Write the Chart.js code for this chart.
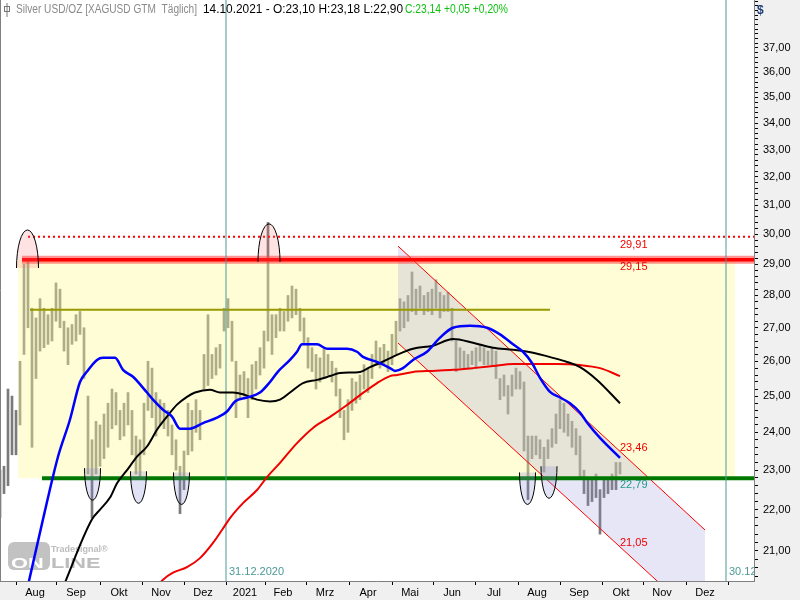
<!DOCTYPE html>
<html>
<head>
<meta charset="utf-8">
<script src="https://cdn.jsdelivr.net/npm/chart.js@4.4.0/dist/chart.umd.min.js"></script>
<style>
  html, body { margin: 0; padding: 0; background: #fff; }
</style>
</head>
<body>
<canvas id="chart" width="800" height="600"></canvas>
<script>
// x unit = trading day index (0 = left edge of the window)
const barStep = 2;
const barLow = [21.8,22.4,22.6,23.4,23.4,24.2,26.2,27.0,23.6,25.5,26.3,26.4,26.5,26.6,27.2,27.0,26.3,25.9,26.5,26.6,
  26.8,25.5,22.9,21.8,22.9,23.1,23.3,23.6,24.1,24.2,23.8,23.9,24.2,23.4,22.9,22.8,23.4,24.6,24.4,23.9,
  24.2,24.1,23.9,23.4,23.0,21.9,22.5,23.4,23.5,24.0,23.8,25.2,25.3,25.5,25.6,25.8,26.9,27.0,26.0,24.4,
  24.9,25.0,24.4,24.9,25.2,25.6,25.8,26.6,26.2,26.7,26.9,26.9,27.2,27.3,27.4,26.9,26.5,25.8,25.7,25.2,
  25.4,25.5,25.6,25.4,25.0,24.4,23.8,24.0,24.6,24.8,24.9,25.2,25.1,25.5,25.9,25.8,25.9,25.7,25.9,26.2,
  26.9,27.0,27.2,27.5,27.4,27.6,27.4,27.5,27.4,27.6,27.3,27.5,27.5,26.6,25.7,25.8,25.8,25.8,25.9,25.8,
  26.0,25.9,25.9,25.9,25.5,24.9,25.0,24.5,25.0,25.2,25.2,23.5,22.25,23.3,23.4,23.3,22.95,23.3,23.6,23.7,
  24.1,24.0,23.9,23.6,23.4,22.8,22.4,22.1,22.2,22.3,21.4,22.3,22.4,22.5,22.5,22.9];
const barHigh = [23.0,23.1,25.2,25.0,24.6,26.0,29.0,29.2,27.6,27.3,27.9,27.6,27.4,27.6,28.4,28.2,27.2,27.0,27.1,27.4,
  27.5,27.0,25.0,23.8,24.3,24.2,24.5,24.8,25.2,25.1,24.6,24.8,25.1,24.6,23.9,23.8,24.8,26.0,25.8,25.1,
  24.9,24.8,24.6,24.2,23.8,23.1,23.5,24.8,24.6,24.9,24.6,26.2,27.4,26.2,26.4,26.5,27.6,27.9,27.2,26.0,
  25.6,25.7,25.5,25.9,26.0,26.4,26.9,30.4,27.4,27.4,27.6,27.5,28.0,28.3,28.2,27.6,27.3,26.7,26.4,26.2,
  26.1,26.4,26.2,26.0,25.8,25.2,24.6,24.9,25.5,25.4,25.6,25.9,25.8,26.2,26.6,26.4,26.5,26.3,26.8,27.2,
  27.9,27.8,28.0,28.75,28.2,28.3,28.0,28.1,28.2,28.5,28.1,28.0,28.1,27.6,26.6,26.4,26.3,26.2,26.3,26.4,
  26.5,26.4,26.3,26.4,26.3,25.5,25.6,25.3,25.6,25.8,25.7,25.4,23.9,23.9,23.9,23.8,23.6,23.8,24.1,24.5,
  24.9,24.8,24.5,24.3,24.1,23.9,23.0,22.8,22.8,22.9,22.5,22.8,22.8,22.9,23.2,23.2];

// moving averages
const blueT = [13,21.5,29,35,40,43.5,48.5,51.5,57.5,61.5,66.5,73.5,76.5,81.5,86,90,95,101.5,108.5,113.5,
  117.5,123.5,130,135,139,145,148.5,151,158.5,163.5,173.5,178.5,181.5,188.5,195,197.5,201.5,206.5,213.5,220,
  226.5,235,243.5,250,256.5,261.5,266,270,275,280,285,290,293.5,300,310];
const blueV = [20.0,21.76,23.35,24.35,25.4,25.7,26.04,26.1,26.1,25.75,25.55,25.1,24.9,24.62,24.43,24.1,24.1,24.25,24.4,24.57,
  24.85,24.96,25.1,25.4,25.7,26.04,26.28,26.5,26.5,26.37,26.37,26.28,26.13,25.98,25.8,25.72,25.8,26.04,26.28,26.7,
  27.0,27.06,27.0,26.8,26.5,26.28,25.95,25.52,25.12,24.96,24.8,24.54,24.27,23.85,23.32];
const blackT = [31,46,50,55,58.5,63.5,68.5,73.5,78.5,83.5,88.5,93.5,97.5,105,110,116.5,121.5,128.5,135,140,
  145,151.5,158.5,165,170,180,185,190,198.5,206.5,216.5,226.5,236.5,246.5,256.5,266.5,276.5,283.5,290,298.5,310];
const blackV = [20.1,21.76,22.0,22.3,22.66,23.0,23.35,23.62,24.07,24.43,24.76,24.98,25.1,25.18,25.1,25.1,25.05,24.9,24.85,24.9,
  25.1,25.37,25.46,25.57,25.66,25.69,25.83,25.95,26.19,26.37,26.46,26.66,26.55,26.4,26.34,26.25,26.1,25.98,25.83,25.46,24.8];
const redT = [79,81.5,86.5,93.5,100,106.5,111,115,121.5,128.5,133.5,140,148.5,156.5,165,173.5,181.5,188.5,195,198.5,
  206.5,216.5,226.5,236.5,246.5,256.5,266.5,278.5,290,300,310];
const redV = [20.2,20.33,20.49,20.62,20.83,21.19,21.5,21.79,22.16,22.49,22.82,23.19,23.71,24.12,24.42,24.75,25.09,25.37,25.57,25.6,
  25.69,25.72,25.75,25.8,25.86,25.92,25.92,25.92,25.89,25.8,25.57];

// horizontal levels and zones
const levelTop = 29.91, levelResist = 29.15, levelMid = 27.55, levelSupport = 22.79;
const zoneT = [9, 367.5];
const channelT = [199, 352.5];
const channelUpper = [29.6, 21.5];
const channelLower = [26.54, 19.32];
const channelNow = [23.46, 21.05];
const lastT = 310;

// markers
const topMarkT = [13.75, 134.5];
const topMarkV = [28.88, 29.08];
const lowMarkT = [46.25, 69.25, 90.75, 263.75, 274.5];
const lowMarkV = [23.05, 22.97, 22.94, 22.94, 23.1];

// date lines
const dateLineT = [113, 363];
const dateLineText = ["31.12.2020", "30.12.2021"];

// axes
const monthStarts = [8, 28.5, 50, 71, 92, 113, 132.5, 153, 174.5, 196, 216.5, 237.5, 259, 280, 301, 321.5, 343, 364];
const monthLabelT = [17.5, 38, 59.5, 80.5, 101.5, 122.5, 141.5, 162.5, 184, 205, 226, 247, 268.5, 289.5, 310.5, 331, 352.5];
const monthLabels = ["Aug","Sep","Okt","Nov","Dez","2021","Feb","Mrz","Apr","Mai","Jun","Jul","Aug","Sep","Okt","Nov","Dez"];
const priceTicks = [21,22,23,24,25,26,27,28,29,30,31,32,33,34,35,36,37];

const fmt = v => v.toFixed(2).replace('.', ',');
const hline = (v, t0, t1) => [{x: t0, y: v}, {x: t1, y: v}];

Chart.defaults.font.family = "'Liberation Sans', Arial, sans-serif";
Chart.defaults.font.size = 11;
Chart.defaults.color = '#000';

const decor = {
  id: 'decor',
  beforeDraw(chart) {
    const {ctx, chartArea: a} = chart;
    ctx.save();
    ctx.fillStyle = '#f0f0f0';
    ctx.fillRect(0, 0, chart.width, chart.height);
    ctx.fillStyle = '#fff';
    ctx.fillRect(a.left, a.top, a.right - a.left, a.bottom - a.top);
    ctx.restore();
  },
  beforeDatasetsDraw(chart) {
    // Tradesignal online watermark
    const {ctx} = chart;
    ctx.save();
    ctx.fillStyle = '#c2c2c2';
    ctx.beginPath();
    ctx.roundRect(8, 542, 42, 28, 6);
    ctx.fill();
    ctx.font = "bold 15px 'Liberation Sans'";
    ctx.textBaseline = 'alphabetic';
    ctx.save();
    ctx.translate(11, 568);
    ctx.scale(1.45, 1);
    ctx.fillStyle = '#fff';
    ctx.fillText('ON', 0, 0);
    ctx.restore();
    ctx.save();
    ctx.translate(51, 568);
    ctx.scale(1.45, 1);
    ctx.fillStyle = '#bdbdbd';
    ctx.fillText('LINE', 0, 0);
    ctx.restore();
    ctx.fillStyle = '#bdbdbd';
    ctx.font = "bold 9px 'Liberation Sans'";
    ctx.fillText('Tradesignal®', 51, 552);
    ctx.restore();
  },
  afterDatasetsDraw(chart) {
    const {ctx, chartArea: a} = chart;
    const xs = chart.scales.x, ys = chart.scales.y;
    ctx.save();
    ctx.beginPath();
    ctx.rect(a.left, a.top, a.right - a.left, a.bottom - a.top);
    ctx.clip();

    // high marks
    topMarkT.forEach((t, i) => {
      const cx = xs.getPixelForValue(t), cy = ys.getPixelForValue(topMarkV[i]);
      ctx.beginPath();
      ctx.ellipse(cx, cy, 11, 38, 0, Math.PI, 2 * Math.PI);
      ctx.fillStyle = 'rgba(255,110,110,0.2)';
      ctx.fill();
      ctx.strokeStyle = '#000';
      ctx.lineWidth = 1;
      ctx.stroke();
    });
    // low marks
    lowMarkT.forEach((t, i) => {
      const cx = xs.getPixelForValue(t), cy = ys.getPixelForValue(lowMarkV[i]);
      ctx.beginPath();
      ctx.ellipse(cx, cy, 8, 32, 0, 0, Math.PI);
      ctx.fillStyle = 'rgba(140,140,220,0.25)';
      ctx.fill();
      ctx.strokeStyle = '#000';
      ctx.lineWidth = 1;
      ctx.stroke();
    });

    // value labels at the last bar
    ctx.font = "11px 'Liberation Sans'";
    ctx.textBaseline = 'middle';
    ctx.textAlign = 'left';
    const lx = xs.getPixelForValue(lastT);
    ctx.fillStyle = '#f00000';
    ctx.fillText(fmt(levelTop), lx, ys.getPixelForValue(levelTop) + 8);
    ctx.fillText(fmt(levelResist), lx, ys.getPixelForValue(levelResist) + 7);
    ctx.fillText(fmt(channelNow[0]), lx, ys.getPixelForValue(channelNow[0]) - 5);
    ctx.fillText(fmt(channelNow[1]), lx, ys.getPixelForValue(channelNow[1]) - 6);
    ctx.fillStyle = '#1f9a86';
    ctx.fillText(fmt(levelSupport), lx, ys.getPixelForValue(levelSupport) + 7);

    // date line labels
    ctx.fillStyle = '#4a9a98';
    dateLineT.forEach((t, i) => {
      ctx.fillText(dateLineText[i], xs.getPixelForValue(t) + 3, a.bottom - 9);
    });
    ctx.restore();

    // frame
    ctx.save();
    ctx.strokeStyle = '#808080';
    ctx.lineWidth = 1;
    ctx.beginPath();
    ctx.moveTo(0.5, 0);
    ctx.lineTo(0.5, a.bottom);
    ctx.stroke();

    // header
    ctx.textBaseline = 'middle';
    ctx.font = "12px 'Liberation Sans'";
    ctx.fillStyle = '#8a8a8a';
    ctx.fillText('Silver USD/OZ [XAGUSD GTM  Täglich]', 16, 10, 181);
    ctx.fillStyle = '#000';
    ctx.fillText('14.10.2021 - O:23,10 H:23,18 L:22,90', 203, 10, 200);
    ctx.fillStyle = '#10c010';
    ctx.fillText('C:23,14 +0,05 +0,20%', 405, 10, 103);
    // header icon
    ctx.strokeStyle = '#777';
    ctx.strokeRect(4.5, 6.5, 5, 5);
    ctx.beginPath();
    ctx.moveTo(7, 3);
    ctx.lineTo(7, 17);
    ctx.stroke();
    // currency
    ctx.fillStyle = '#1c3c78';
    ctx.font = "bold 12px 'Liberation Sans'";
    ctx.fillText('$', 757, 11);
    ctx.restore();
  }
};

const bars = barLow.map((lo, k) => ({x: k * barStep, y: [lo, barHigh[k]]}));
const toXY = (ts, vs) => ts.map((t, i) => ({x: t, y: vs[i]}));

const lineBase = {type: 'line', pointRadius: 0, clip: 0, fill: false};

new Chart(document.getElementById('chart'), {
  type: 'line',
  data: {
    datasets: [
      {type: 'bar', data: bars, backgroundColor: '#7a7a7a', borderWidth: 0, barThickness: 2, order: 20, clip: 0},
      {...lineBase, data: hline(levelResist, zoneT[0], zoneT[1]), borderWidth: 0,
        fill: {value: levelSupport}, backgroundColor: 'rgba(255,250,150,0.4)', order: 19},
      {...lineBase, data: toXY(channelT, channelUpper), borderColor: '#ff0000', borderWidth: 1, order: 17},
      {...lineBase, data: toXY(channelT, channelLower), borderColor: '#ff0000', borderWidth: 1,
        fill: '-1', backgroundColor: 'rgba(140,140,220,0.22)', order: 18},
      {...lineBase, data: hline(levelMid, 15, 275), borderColor: '#999900', borderWidth: 2, order: 10},
      {...lineBase, data: hline(levelResist, 11, 377), borderColor: 'rgba(255,60,60,0.55)', borderWidth: 8, order: 9},
      {...lineBase, data: hline(levelResist, 11, 377), borderColor: '#ff0000', borderWidth: 3.5, order: 8},
      {...lineBase, data: hline(levelTop, 14, 377), borderColor: '#ff0000', borderWidth: 2, borderDash: [2, 3], order: 8},
      {...lineBase, data: hline(levelSupport, 21, 377), borderColor: '#007800', borderWidth: 4, order: 8},
      ...dateLineT.map(t => ({...lineBase, data: [{x: t, y: 18}, {x: t, y: 42}], borderColor: '#4a9a98', borderWidth: 1, order: 7})),
      {...lineBase, data: toXY(redT, redV), borderColor: '#f00000', borderWidth: 2, cubicInterpolationMode: 'monotone', order: 3},
      {...lineBase, data: toXY(blackT, blackV), borderColor: '#000', borderWidth: 2, cubicInterpolationMode: 'monotone', order: 2},
      {...lineBase, data: toXY(blueT, blueV), borderColor: '#0000ff', borderWidth: 2.5, cubicInterpolationMode: 'monotone', order: 1}
    ]
  },
  options: {
    responsive: false,
    devicePixelRatio: 1,
    animation: false,
    layout: {padding: 0},
    plugins: {legend: {display: false}, tooltip: {enabled: false}},
    scales: {
      x: {
        type: 'linear',
        min: 0,
        max: 377,
        offset: false,
        border: {display: true, color: '#808080'},
        grid: {
          offset: false,
          drawOnChartArea: false,
          tickLength: 4,
          tickColor: c => (c.tick && c.tick.b) ? '#000' : 'rgba(0,0,0,0)'
        },
        ticks: {
          autoSkip: false,
          maxRotation: 0,
          padding: 1,
          callback: (v, i, ticks) => ticks[i].lab || ''
        },
        afterBuildTicks: s => {
          const t = monthStarts.map(v => ({value: v, b: true}))
            .concat(monthLabelT.map((v, i) => ({value: v, lab: monthLabels[i]})));
          t.sort((p, q) => p.value - q.value);
          s.ticks = t;
        },
        afterFit: s => { s.height = 19; s.paddingLeft = 0; s.paddingRight = 0; }
      },
      y: {
        type: 'logarithmic',
        position: 'right',
        min: 20.30,
        max: 39.055,
        border: {display: true, color: '#808080'},
        grid: {drawOnChartArea: false, tickLength: 4, tickColor: '#000'},
        ticks: {
          autoSkip: false,
          padding: 5,
          callback: (v, i, ticks) => ticks[i].lab || ''
        },
        afterBuildTicks: s => {
          const t = [];
          for (let n = 20; n <= 39; n++) {
            for (let j = 0; j < 5; j++) {
              const v = n + j * 0.2;
              if (v < s.min || v > s.max) continue;
              const tick = {value: v};
              if (j === 0 && priceTicks.includes(n)) tick.lab = fmt(n);
              t.push(tick);
            }
          }
          s.ticks = t;
        },
        afterFit: s => { s.width = 46; s.paddingTop = 0; s.paddingBottom = 0; }
      }
    }
  },
  plugins: [decor]
});
</script>
</body>
</html>
